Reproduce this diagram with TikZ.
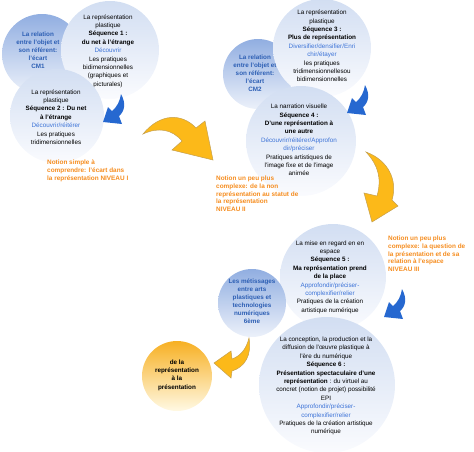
\documentclass[tikz,border=0pt]{standalone}
\usepackage{fontspec}
\setmainfont{Liberation Sans}
\definecolor{seqtop}{RGB}{210,222,242}
\definecolor{seqbot}{RGB}{250,251,254}
\definecolor{cmtop}{RGB}{145,174,225}
\definecolor{cmbot}{RGB}{236,241,250}
\definecolor{yeltop}{RGB}{247,176,35}
\definecolor{yelbot}{RGB}{255,249,228}
\definecolor{arrblue}{RGB}{38,104,208}
\definecolor{arryel}{RGB}{252,185,25}
\definecolor{arryeledge}{RGB}{196,160,80}
\definecolor{orangetxt}{RGB}{245,140,30}
\definecolor{cmblue}{RGB}{45,95,180}
\definecolor{linkblue}{RGB}{60,115,215}
\begin{document}
\begin{tikzpicture}[x=1pt,y=-1pt,
  seqc/.style={circle, draw=none, inner sep=0, top color=seqtop, bottom color=seqbot, minimum size=#1},
  cmc/.style={circle, draw=none, inner sep=0, top color=cmtop, bottom color=cmbot, minimum size=#1},
  yelc/.style={circle, draw=none, inner sep=0, top color=yeltop, bottom color=yelbot, minimum size=#1},
  txt/.style={font=\fontsize{6.3}{8.4}\selectfont, align=center, inner sep=0, text=black},
  cmtxt/.style={font=\fontsize{6.3}{8}\selectfont\bfseries, align=center, inner sep=0, text=cmblue},
  ortxt/.style={font=\fontsize{6.4}{7.7}\selectfont\bfseries, align=left, inner sep=0, text=orangetxt, anchor=north west},
  blarrow/.style={fill=arrblue},
  ylarrow/.style={fill=arryel, draw=arryeledge, line width=0.5pt}]
\useasboundingbox (0,0) rectangle (474,451);

% --- group 1
\node[cmc=80pt] (cm1) at (42,54) {};
\node[cmtxt] (cm1t) at (38,50) {La relation\\entre l'objet et\\son référent:\\l'écart\\CM1};
\node[seqc=98pt] (s1) at (110,50) {};
\node[txt] (s1t) at (108,51) {La représentation\\plastique\\\textbf{Séquence 1 :}\\\textbf{du net à l'étrange}\\\textcolor{linkblue}{Découvrir}\\Les pratiques\\bidimensionnelles\\(graphiques et\\picturales)};
\node[seqc=94pt] (s2) at (57,116) {};
\node[txt] (s2t) at (56,117) {La représentation\\plastique\\\textbf{Séquence 2 : Du net}\\\textbf{à l'étrange}\\\textcolor{linkblue}{Découvrir/réitérer}\\Les pratiques\\tridimensionnelles};
\node[ortxt] (o1) at (47,160) {Notion simple à\\comprendre: l'écart dans\\la représentation NIVEAU I};

% --- group 2
\node[cmc=70pt] (cm2) at (258,74) {};
\node[cmtxt] (cm2t) at (255,73) {La relation\\entre l'objet et\\son référent:\\l'écart\\CM2};
\node[seqc=98pt] (s3) at (322,48) {};
\node[txt] (s3t) at (322,46) {La représentation\\plastique\\\textbf{Séquence 3 :}\\\textbf{Plus de représentation}\\\textcolor{linkblue}{Diversifier/densifier/Enri}\\\textcolor{linkblue}{chir/étayer}\\les pratiques\\tridimensionnellesou\\bidimensionnelles};
\node[seqc=110pt] (s4) at (301,141) {};
\node[txt] (s4t) at (299,140) {La narration visuelle\\\textbf{Séquence 4 :}\\\textbf{D'une représentation à}\\\textbf{une autre}\\\textcolor{linkblue}{Découvrir/réitérer/Approfon}\\\textcolor{linkblue}{dir/préciser}\\Pratiques artistiques de\\l'image fixe et de l'image\\animée};
\node[ortxt] (o2) at (216,176) {Notion un peu plus\\complexe: de la non\\représentation au statut de\\la représentation\\NIVEAU II};

% --- group 3
\node[seqc=106pt] (s5) at (333,277) {};
\node[txt] (s5t) at (330,277) {La mise en regard en en\\espace\\\textbf{Séquence 5 :}\\\textbf{Ma représentation prend}\\\textbf{de la place}\\\textcolor{linkblue}{Approfondir/préciser-}\\\textcolor{linkblue}{complexifier/relier}\\Pratiques de la création\\artistique numérique};
\node[ortxt] (o3) at (388,236) {Notion un peu plus\\complexe: la question de\\la présentation et de sa\\relation à l'espace\\NIVEAU III};
\node[cmc=68pt] (cm3) at (252,303) {};
\node[seqc=136pt] (s6) at (327,385) {};
\node[cmtxt] (cm3t) at (252,301) {Les métissages\\entre arts\\plastiques et\\technologies\\numériques\\6ème};
\node[txt] (s6t) at (326,386) {La conception, la production et la\\diffusion de l'œuvre plastique à\\l'ère du numérique\\\textbf{Séquence 6 :}\\\textbf{Présentation spectaculaire d'une}\\\textbf{représentation} : du virtuel au\\concret (notion de projet) possibilité\\EPI\\\textcolor{linkblue}{Approfondir/préciser-}\\\textcolor{linkblue}{complexifier/relier}\\Pratiques de la création artistique\\numérique};

% --- final circle
\node[yelc=70pt] (fin) at (177,376) {};
\node[txt, font=\fontsize{6.3}{8.4}\selectfont\bfseries] (fint) at (177,375) {de la\\représentation\\à la\\présentation};

% --- blue arrows
\fill[blarrow] (121,94) .. controls (126,103) and (125,111) .. (119,116) -- (122,124) -- (103,122) -- (108,107) -- (112,111) .. controls (117,107) and (120,101) .. cycle;
\fill[blarrow] (365,85) .. controls (370,94) and (369,102) .. (363,107) -- (366,115) -- (347,113) -- (352,98) -- (356,102) .. controls (361,98) and (364,92) .. cycle;
\fill[blarrow] (402,289) .. controls (407,298) and (406,306) .. (400,311) -- (403,319) -- (384,317) -- (389,302) -- (393,306) .. controls (398,302) and (401,296) .. cycle;

% --- yellow arrows
\filldraw[ylarrow] (143,134) .. controls (160,113) and (182,113) .. (196,128) -- (205,121) -- (213,160) -- (172,150) -- (182,141) .. controls (172,129) and (158,127) .. cycle;
\filldraw[ylarrow] (366,152) .. controls (388,160) and (398,180) .. (392,200) -- (398,206) -- (372,222) -- (364,193) -- (377,196) .. controls (382,178) and (378,165) .. cycle;
\filldraw[ylarrow] (249,338) .. controls (252,355) and (245,367) .. (232,371) -- (231,378) -- (214,363) -- (231,351) -- (232,359) .. controls (240,356) and (246,350) .. cycle;
\end{tikzpicture}
\end{document}
